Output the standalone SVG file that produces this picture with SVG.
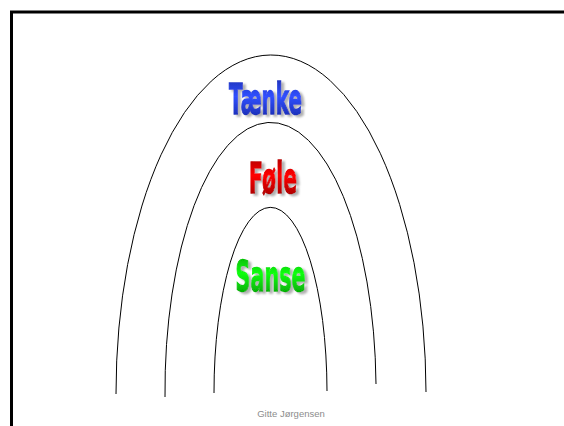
<svg xmlns="http://www.w3.org/2000/svg" width="564" height="426" viewBox="0 0 564 426">
  <defs>
    <linearGradient id="gBlue" x1="0" y1="0" x2="0" y2="1">
      <stop offset="0" stop-color="#1a2aa8"/>
      <stop offset="0.45" stop-color="#3050ff"/>
      <stop offset="1" stop-color="#13229a"/>
    </linearGradient>
    <linearGradient id="gRed" x1="0" y1="0" x2="0" y2="1">
      <stop offset="0" stop-color="#a00000"/>
      <stop offset="0.45" stop-color="#ff0000"/>
      <stop offset="1" stop-color="#8a0000"/>
    </linearGradient>
    <linearGradient id="gGreen" x1="0" y1="0" x2="0" y2="1">
      <stop offset="0" stop-color="#00a000"/>
      <stop offset="0.45" stop-color="#10ff10"/>
      <stop offset="1" stop-color="#008a00"/>
    </linearGradient>
    <!-- soft grey drop shadow behind the word art -->
    <filter id="drop" x="-10%" y="-15%" width="125%" height="140%">
      <feGaussianBlur in="SourceAlpha" stdDeviation="0.8" result="blur"/>
      <feOffset in="blur" dx="2.5" dy="2" result="off"/>
      <feFlood flood-color="#b0b0b0"/>
      <feComposite in2="off" operator="in" result="shadow"/>
      <feMerge>
        <feMergeNode in="shadow"/>
        <feMergeNode in="SourceGraphic"/>
      </feMerge>
    </filter>
  </defs>
  <style>
    .arc { fill: none; stroke: #000; stroke-width: 1; }
    .word { font-family: "DejaVu Sans", "Liberation Sans", sans-serif; font-weight: bold; font-size: 43px; text-anchor: middle; stroke-width: 1.5; filter: url(#drop); }
    .footer { font-family: "Liberation Sans", Arial, sans-serif; font-size: 9.5px; fill: #8c8c8c; text-anchor: middle; }
  </style>

  <rect width="564" height="426" fill="#fff"/>
  <!-- page frame, open towards the right and bottom -->
  <rect x="11.5" y="12" width="700" height="600" fill="none" stroke="#000" stroke-width="3"/>

  <!-- outer ring: thinking -->
  <g id="taenke">
    <path class="arc" d="M116,394 A155,338 0 0 1 426,392"/>
    <text class="word" x="265.5" y="114" textLength="73" lengthAdjust="spacingAndGlyphs" fill="url(#gBlue)" stroke="url(#gBlue)">Tænke</text>
  </g>

  <!-- middle ring: feeling -->
  <g id="foele">
    <path class="arc" d="M165,397 A105.5,268 0 0 1 376,384"/>
    <text class="word" x="273" y="193" textLength="48" lengthAdjust="spacingAndGlyphs" fill="url(#gRed)" stroke="url(#gRed)">Føle</text>
  </g>

  <!-- inner ring: sensing -->
  <g id="sanse">
    <path class="arc" d="M214,393 A56.3,184 0 0 1 327,391"/>
    <text class="word" x="270.5" y="291" textLength="70" lengthAdjust="spacingAndGlyphs" fill="url(#gGreen)" stroke="url(#gGreen)">Sanse</text>
  </g>

  <g id="footer">
    <text class="footer" x="291" y="416.5">Gitte Jørgensen</text>
  </g>
</svg>
